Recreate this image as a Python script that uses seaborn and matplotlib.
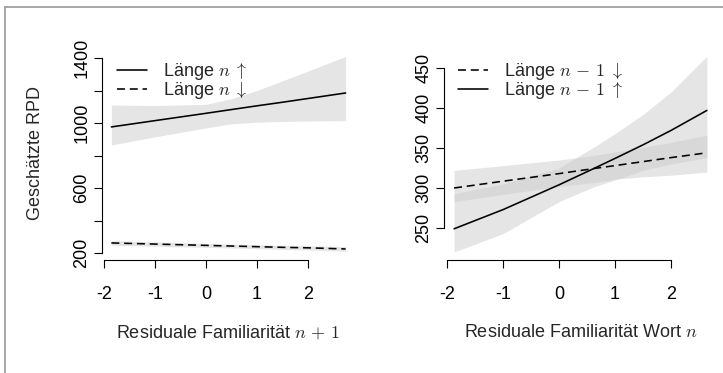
import numpy as np
import pandas as pd
import matplotlib
matplotlib.use("Agg")
import matplotlib.pyplot as plt
from matplotlib.lines import Line2D
import seaborn as sns

sns.set_style("white")
plt.rcParams["font.family"] = ["Liberation Sans", "DejaVu Sans"]
plt.rcParams["mathtext.fontset"] = "cm"
plt.rcParams["axes.unicode_minus"] = False

# ---- left panel: familiarity of word n+1 ----
left_x = [-1.86, -1.0, 0.0, 0.5, 1.0, 1.5, 2.0, 2.74]
left_long = [976, 1015, 1060, 1083, 1106, 1128, 1151, 1185]
left_long_hi = [1111, 1108, 1115, 1150, 1200, 1260, 1320, 1410]
left_long_lo = [865, 915, 970, 995, 1005, 1010, 1012, 1015]
left_short = [262, 255, 247, 243, 239, 235, 232, 225]
left_short_hi = [276, 268, 259, 255, 251, 248, 245, 240]
left_short_lo = [248, 242, 235, 231, 227, 222, 219, 211]

# ---- right panel: familiarity of word n ----
right_x = [-1.875, -1.0, 0.0, 0.64, 1.0, 1.5, 2.0, 2.64]
right_short = [300, 308.5, 318, 324.5, 328, 333, 338, 344]
right_short_hi = [322, 328, 335, 341, 345, 351, 357, 366]
right_short_lo = [283, 292, 302, 307, 311, 314, 316, 320]
right_long = [249, 273, 304, 325, 337, 354, 372, 397]
right_long_hi = [293, 305, 325, 352, 368, 392, 420, 465]
right_long_lo = [220, 243, 283, 302, 310, 322, 330, 338]

x_ticks = [-2, -1, 0, 1, 2]
left_y_ticks = [200, 400, 600, 800, 1000, 1200, 1400]
left_y_labels = ["200", "", "600", "", "1000", "", "1400"]
right_y_ticks = [250, 300, 350, 400, 450]

band_color = (0.8, 0.8, 0.8, 0.5)
FS = 13
W, H = 723, 373

fig = plt.figure(figsize=(W / 100, H / 100), dpi=100)
fig.patch.set_facecolor("white")

def px_axes(l, t, r, b):
    return fig.add_axes([l / W, 1 - b / H, (r - l) / W, (b - t) / H])

ax1 = px_axes(102, 47, 355, 260)
ax2 = px_axes(444, 48, 717, 260)

df_left = pd.DataFrame({"x": left_x, "long": left_long, "short": left_short})
df_right = pd.DataFrame({"x": right_x, "long": right_long, "short": right_short})

# confidence bands
ax1.fill_between(left_x, left_long_lo, left_long_hi, color=band_color, lw=0)
ax1.fill_between(left_x, left_short_lo, left_short_hi, color=band_color, lw=0)
ax2.fill_between(right_x, right_short_lo, right_short_hi, color=band_color, lw=0)
ax2.fill_between(right_x, right_long_lo, right_long_hi, color=band_color, lw=0)

dash = (5, 3)
lw = 1.15
sns.lineplot(data=df_left, x="x", y="long", ax=ax1, color="black", lw=lw)
sns.lineplot(data=df_left, x="x", y="short", ax=ax1, color="black", lw=lw)
ax1.lines[-1].set_dashes(dash)
sns.lineplot(data=df_right, x="x", y="short", ax=ax2, color="black", lw=lw)
ax2.lines[-1].set_dashes(dash)
sns.lineplot(data=df_right, x="x", y="long", ax=ax2, color="black", lw=lw)

def style_axes(ax, xlim, ylim, yticks, ylabels, ybounds):
    ax.set_xlim(*xlim)
    ax.set_ylim(*ylim)
    ax.set_facecolor("white")
    for s in ("top", "right"):
        ax.spines[s].set_visible(False)
    for s in ("left", "bottom"):
        ax.spines[s].set_color("black")
        ax.spines[s].set_linewidth(0.8)
    ax.spines["bottom"].set_bounds(-2, 2)
    ax.spines["left"].set_bounds(*ybounds)
    ax.set_xticks(x_ticks)
    ax.set_xticklabels([str(v) for v in x_ticks])
    ax.set_yticks(yticks)
    ax.set_yticklabels(ylabels, rotation=90, va="center")
    ax.tick_params(axis="both", direction="out", length=5.5, width=0.8,
                   color="black", labelsize=FS, labelcolor="black",
                   bottom=True, left=True)
    ax.tick_params(axis="x", pad=13)
    ax.tick_params(axis="y", pad=3)

style_axes(ax1, (-2.044, 2.924), (157, 1468), left_y_ticks, left_y_labels, (200, 1400))
style_axes(ax2, (-2.055, 2.82), (210, 475), right_y_ticks,
           [str(v) for v in right_y_ticks], (250, 450))

ax1.set_xlabel(r"Residuale Familiarität $n\,+\,1$", fontsize=FS)
ax2.set_xlabel(r"Residuale Familiarität Wort $n$", fontsize=FS)
ax1.xaxis.set_label_coords(0.5, -0.30)
ax2.xaxis.set_label_coords(0.5, -0.30)
ax1.set_ylabel("Geschätzte RPD", fontsize=FS)
ax1.yaxis.set_label_coords(-0.228, 0.5)
ax2.set_ylabel("")

def add_legend(ax, labels, styles, x_px, y_px):
    handles = []
    for ls in styles:
        h = Line2D([0], [0], color="black", lw=lw)
        if ls == "dashed":
            h.set_dashes(dash)
        handles.append(h)
    ax.legend(handles, labels, loc="upper left",
              bbox_to_anchor=(x_px / W, 1 - y_px / H),
              bbox_transform=fig.transFigure, frameon=False,
              borderpad=0, borderaxespad=0, handlelength=1.65,
              handletextpad=0.9, labelspacing=-0.1, fontsize=FS)

add_legend(ax1, [r"Länge $n\;\uparrow$", r"Länge $n\;\downarrow$"],
           ["solid", "dashed"], 117, 61)
add_legend(ax2, [r"Länge $n\,-\,1\;\downarrow$", r"Länge $n\,-\,1\;\uparrow$"],
           ["dashed", "solid"], 458, 61)

# thin frame lines along the left and top edge
frame = (0.6, 0.6, 0.6)
fig.add_artist(Line2D([4.5 / W, 4.5 / W], [0, 1 - 6.5 / H], transform=fig.transFigure,
                      color=frame, lw=1.2))
fig.add_artist(Line2D([4.5 / W, 1], [1 - 6.5 / H, 1 - 6.5 / H], transform=fig.transFigure,
                      color=frame, lw=1.2))

fig.savefig("out.png", dpi=100, facecolor="white")
